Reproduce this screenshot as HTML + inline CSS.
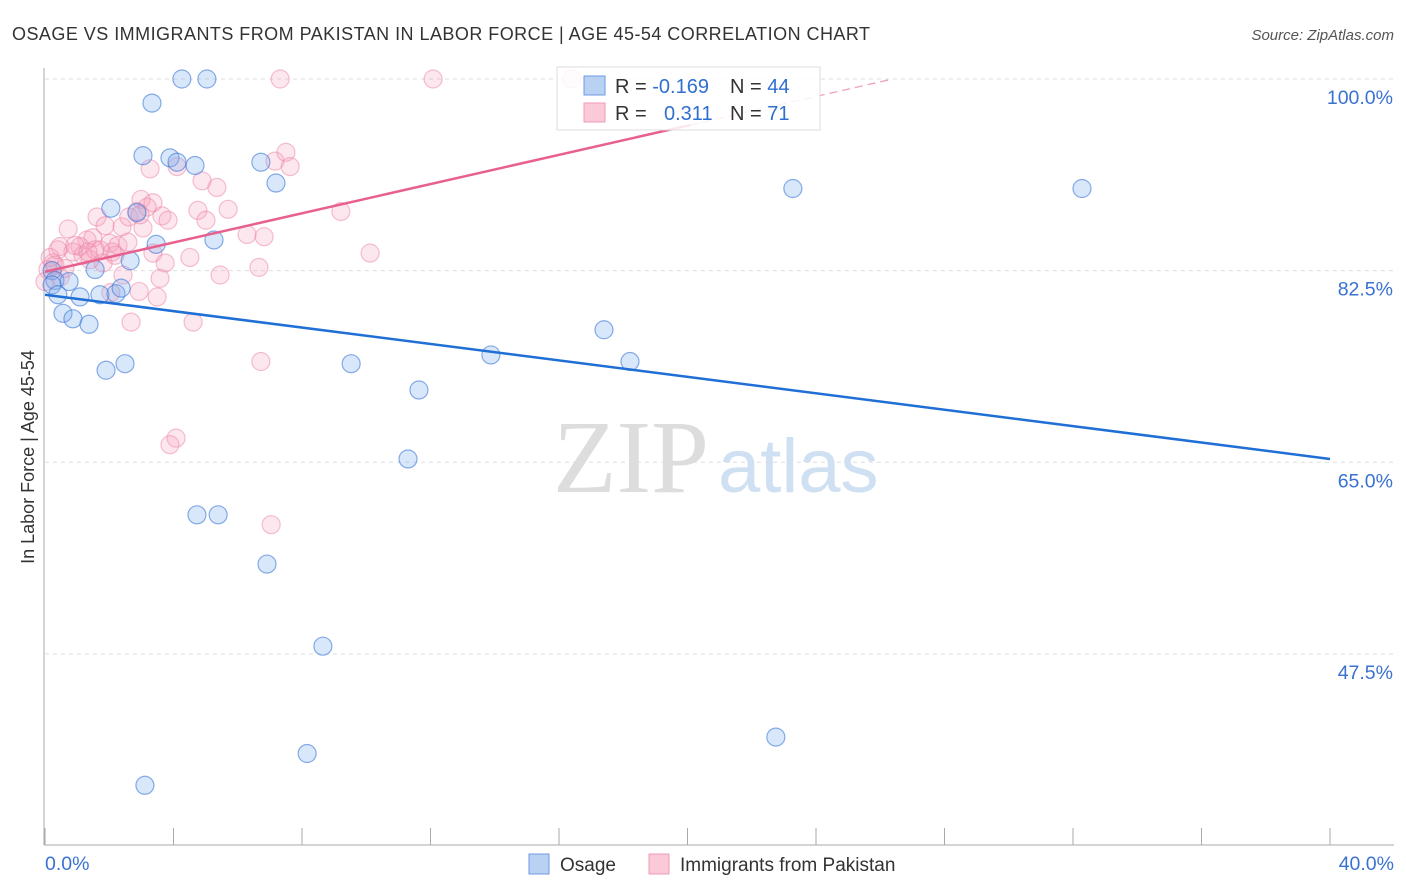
<!DOCTYPE html>
<html><head><meta charset="utf-8"><style>
body{margin:0;background:#fff;font-family:"Liberation Sans",sans-serif;}
svg{display:block}
</style></head><body>
<svg id="chart" width="1406" height="892" viewBox="0 0 1406 892">
<text x="12" y="40" font-size="18" fill="#333" textLength="858" lengthAdjust="spacing">OSAGE VS IMMIGRANTS FROM PAKISTAN IN LABOR FORCE | AGE 45-54 CORRELATION CHART</text>
<text x="1394" y="40" font-size="15" fill="#555" font-style="italic" text-anchor="end">Source: ZipAtlas.com</text>
<g id="grid"></g>
<g id="axes"></g>
<text x="553" y="492" font-size="104" fill="#ddd" font-family="Liberation Serif,serif">ZIP</text>
<text x="718" y="492" font-size="76" fill="#cfe0f3">atlas</text>
<g id="pts"></g>
<g id="lines"></g>
<g>
<rect x="557" y="67" width="263" height="63" fill="rgba(255,255,255,0.85)" stroke="#ddd"/>
<rect x="584" y="76" width="21" height="19" fill="#b9d1f3" stroke="#6d9ae0"/>
<rect x="584" y="103" width="21" height="19" fill="#fbc9d8" stroke="#f09ab5"/>
<text x="615" y="93" font-size="20" fill="#333">R = <tspan fill="#2f6fd0">-0.169</tspan></text>
<text x="730" y="93" font-size="20" fill="#333">N = <tspan fill="#2f6fd0">44</tspan></text>
<text x="615" y="120" font-size="20" fill="#333">R = </text>
<text x="664" y="120" font-size="20" fill="#2f6fd0">0.311</text>
<text x="730" y="120" font-size="20" fill="#333">N = <tspan fill="#2f6fd0"> 71</tspan></text>
</g>
<g>
<rect x="529" y="854" width="20" height="20" fill="#b9d1f3" stroke="#6d9ae0"/>
<text x="560" y="871" font-size="19" fill="#333">Osage</text>
<rect x="649" y="854" width="20" height="20" fill="#fbc9d8" stroke="#f09ab5"/>
<text x="680" y="871" font-size="19" fill="#333">Immigrants from Pakistan</text>
</g>
<text transform="translate(34,457) rotate(-90)" font-size="18" fill="#333" text-anchor="middle">In Labor Force | Age 45-54</text>
</svg>
<script>
const yTicks=[100,82.5,65,47.5];
const yTickLabels=["100.0%","82.5%","65.0%","47.5%"];
const xTickCount=11;
const xMin=0,xMax=40,yMin=34,yMax=100;
const blueX=[4.26,5.04,3.33,3.05,3.89,4.11,4.67,6.72,7.19,2.05,2.86,3.46,5.26,2.65,1.56,0.22,0.31,0.75,0.22,0.40,1.09,1.71,2.21,2.37,0.56,0.87,1.37,2.49,1.90,9.53,13.88,17.40,18.21,11.64,11.30,4.73,5.39,6.91,8.65,8.16,3.11,22.75,23.28,32.28];
const blueY=[100,100,97.8,93.0,92.8,92.4,92.1,92.4,90.5,88.2,87.8,84.9,85.3,83.4,82.6,82.5,81.6,81.5,81.2,80.3,80.1,80.3,80.4,80.9,78.6,78.1,77.6,74.0,73.4,74.0,74.8,77.1,74.2,71.6,65.3,60.2,60.2,55.7,48.2,38.4,35.5,39.9,90.0,90.0];
const pinkX=[3.27,4.11,7.16,7.50,7.63,4.89,5.35,2.99,3.36,1.62,1.87,2.40,2.61,2.86,3.18,3.64,3.83,4.76,5.01,5.70,3.05,6.29,6.82,9.21,0.72,1.31,1.49,1.09,0.47,0.87,2.02,2.27,2.18,1.18,1.71,0.25,0.09,0.47,1.81,3.36,3.74,4.51,2.43,3.58,5.45,6.66,2.93,3.49,2.05,2.68,4.61,7.32,12.08,16.40,10.12,6.72,4.08,3.89,7.04,0.16,0.0,0.31,1.40,1.56,0.40,0.93,2.58,1.34,0.62,2.96,2.09];
const pinkY=[91.8,92.0,92.5,93.3,92.0,90.7,90.1,89.0,88.7,87.4,86.6,86.5,87.4,87.9,88.3,87.5,87.1,88.0,87.1,88.1,86.4,85.8,85.6,87.9,86.3,85.3,85.5,84.7,84.7,84.2,85.0,84.8,83.9,83.9,84.4,83.2,82.6,81.9,83.2,84.1,83.2,83.7,82.1,81.8,82.1,82.8,80.6,80.1,80.5,77.8,77.8,100,100,100,84.1,74.2,67.2,66.6,59.3,83.7,81.5,83.0,83.5,84.4,84.4,84.8,85.1,84.2,82.7,87.6,84.2];
const blueTrend=[80.3,65.3]; // at x=0 and x=40
const pinkTrend=[82.4,0.667]; // intercept, slope
const NS="http://www.w3.org/2000/svg";
const X=v=>45+(v-xMin)/(xMax-xMin)*1285;
const Y=v=>79+(100-v)*10.95;
function mk(tag,attrs,parent){const e=document.createElementNS(NS,tag);for(const k in attrs)e.setAttribute(k,attrs[k]);parent.appendChild(e);return e;}
const grid=document.getElementById('grid'),axes=document.getElementById('axes'),pts=document.getElementById('pts'),lines=document.getElementById('lines');
yTicks.forEach((t,i)=>{
 const l=mk('line',{x1:45,x2:1394,y1:Y(t),y2:Y(t),stroke:'#ddd','stroke-dasharray':'4,4'},grid);
 
 
 const tx=mk('text',{x:1393,y:Y(t)+25,'font-size':19.5,fill:'#3a72d0','text-anchor':'end'},axes);
 tx.textContent=yTickLabels[i];
 
 
});
mk('line',{x1:44,x2:44,y1:68,y2:845,stroke:'#aaa'},axes);
mk('line',{x1:44,x2:1394,y1:845,y2:845,stroke:'#aaa'},axes);
for(let i=0;i<xTickCount;i++){const v=xMin+i*(xMax-xMin)/(xTickCount-1);
 const t=mk('line',{x1:X(v),x2:X(v),y1:828,y2:845,stroke:'#aaa'},axes);
 
 }
const xl0=mk('text',{x:45,y:870,'font-size':19.5,fill:'#3a72d0'},axes);xl0.textContent='0.0%';


const xl1=mk('text',{x:1394,y:870,'font-size':19.5,fill:'#3a72d0','text-anchor':'end'},axes);xl1.textContent='40.0%';


pinkX.forEach((x,i)=>{const c=mk('circle',{cx:X(x),cy:Y(pinkY[i]),r:9,fill:'rgba(246,160,188,0.25)',stroke:'rgba(236,130,165,0.5)','stroke-width':1.2},pts);
 
 });
blueX.forEach((x,i)=>{const c=mk('circle',{cx:X(x),cy:Y(blueY[i]),r:9,fill:'rgba(130,175,240,0.3)',stroke:'rgba(60,120,215,0.6)','stroke-width':1.2},pts);
 
 });
const bl=mk('line',{x1:X(0),y1:Y(blueTrend[0]),x2:X(40),y2:Y(blueTrend[1]),stroke:'#1f6fd6','stroke-width':2.5},lines);


const pl=mk('line',{x1:X(0),y1:Y(pinkTrend[0]),x2:X(20.08),y2:Y(pinkTrend[0]+pinkTrend[1]*20.08),stroke:'#e8608e','stroke-width':2.5},lines);


const pd=mk('line',{x1:X(20.08),y1:Y(pinkTrend[0]+pinkTrend[1]*20.08),x2:X(26.3),y2:Y(pinkTrend[0]+pinkTrend[1]*26.3),stroke:'#f0a0bb','stroke-width':1.3,'stroke-dasharray':'8,5'},lines);


</script>
</body></html>
